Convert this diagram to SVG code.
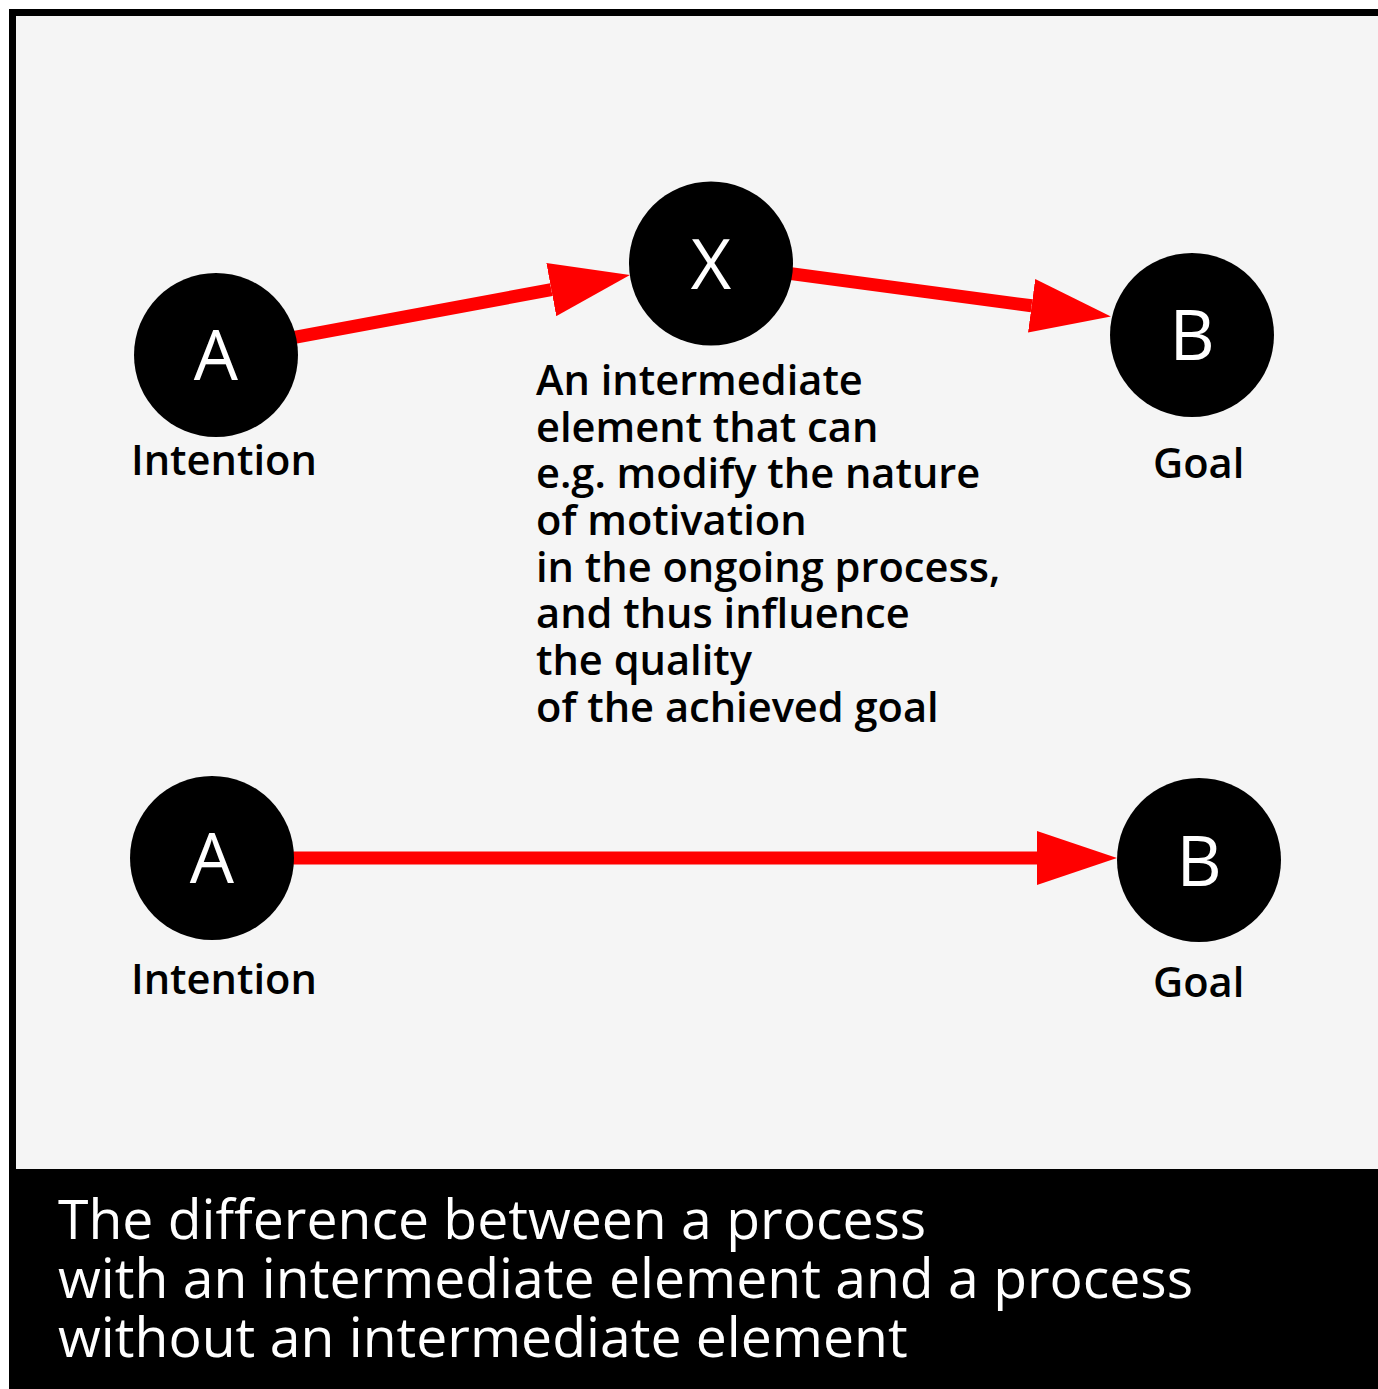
<svg xmlns="http://www.w3.org/2000/svg" width="1378" height="1389" viewBox="0 0 1378 1389">
<style>
.node{fill:#000}
.letter{font-family:"Open Sans","Noto Sans",sans-serif;font-size:70px;fill:#fff;text-anchor:middle}
.label{font-family:"Open Sans","Noto Sans",sans-serif;font-size:41.6px;font-weight:600;fill:#000}
.caption{font-family:"Open Sans","Noto Sans",sans-serif;font-size:55.3px;font-weight:500;fill:#fff}
.conn{stroke:#ff0000;stroke-width:13;fill:none}
</style>
<defs>
<marker id="arrow" markerUnits="userSpaceOnUse" markerWidth="80" markerHeight="54" refX="0" refY="27" orient="auto">
<path d="M0,0 L80,27 L0,54 Z" fill="#ff0000"/>
</marker>
</defs>
<rect x="9" y="9" width="1369" height="1380" fill="#000"/>
<rect x="16" y="16" width="1362" height="1153" fill="#f5f5f5"/>
<g id="connectors">
<line class="conn" x1="216" y1="352" x2="551.3" y2="289.6" marker-end="url(#arrow)"/>
<line class="conn" x1="711" y1="263" x2="1031.6" y2="305.8" marker-end="url(#arrow)"/>
<line class="conn" x1="212" y1="858" x2="1037" y2="858" marker-end="url(#arrow)"/>
</g>
<g id="nodeA1">
<circle class="node" cx="216" cy="355" r="82"/>
<text class="letter" x="216" y="380">A</text>
<text class="label" x="131" y="475">Intention</text>
</g>
<g id="nodeX">
<circle class="node" cx="711" cy="263.5" r="82"/>
<text class="letter" x="711" y="289">X</text>
</g>
<g id="nodeB1">
<circle class="node" cx="1192" cy="335" r="82"/>
<text class="letter" x="1192" y="360">B</text>
<text class="label" x="1153" y="478">Goal</text>
</g>
<g id="noteX">
<text class="label" x="536" y="395">An intermediate</text>
<text class="label" x="536" y="442">element that can</text>
<text class="label" x="536" y="488">e.g. modify the nature</text>
<text class="label" x="536" y="535">of motivation</text>
<text class="label" x="536" y="582">in the ongoing process,</text>
<text class="label" x="536" y="628">and thus influence</text>
<text class="label" x="536" y="675">the quality</text>
<text class="label" x="536" y="722">of the achieved goal</text>
</g>
<g id="nodeA2">
<circle class="node" cx="212" cy="858" r="82"/>
<text class="letter" x="212" y="883">A</text>
<text class="label" x="131" y="994">Intention</text>
</g>
<g id="nodeB2">
<circle class="node" cx="1199" cy="860" r="82"/>
<text class="letter" x="1199" y="886">B</text>
<text class="label" x="1153" y="997">Goal</text>
</g>
<g id="caption">
<text class="caption" x="58" y="1239">The difference between a process</text>
<text class="caption" x="58" y="1298">with an intermediate element and a process</text>
<text class="caption" x="58" y="1357">without an intermediate element</text>
</g>
</svg>
